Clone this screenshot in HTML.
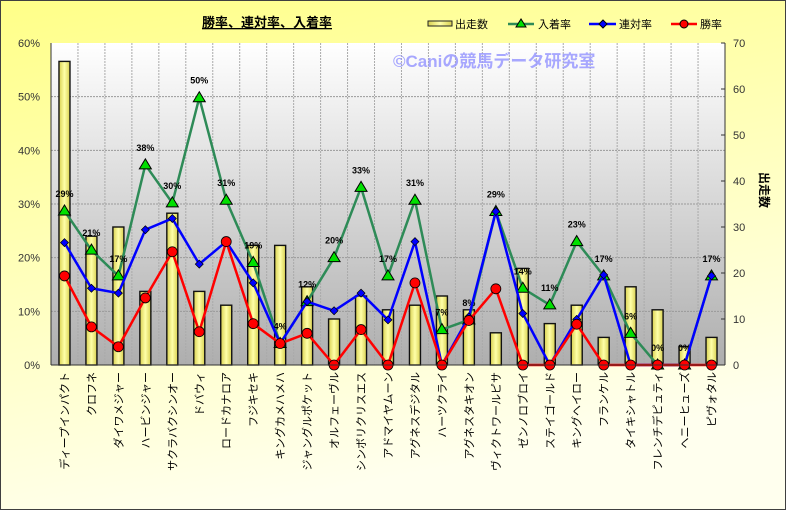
<!DOCTYPE html>
<html><head><meta charset="utf-8"><style>
body{margin:0;width:786px;height:510px;overflow:hidden;font-family:"Liberation Sans","Noto Sans CJK JP",sans-serif}
</style></head><body>
<svg id="s" width="786" height="510" xmlns="http://www.w3.org/2000/svg" font-family="Liberation Sans, Noto Sans CJK JP, sans-serif">
<defs>
<linearGradient id="bg" x1="0" y1="0" x2="0.3" y2="1"><stop offset="0" stop-color="#ffff88"/><stop offset="1" stop-color="#ffffee"/></linearGradient>
<linearGradient id="pl" x1="0" y1="0" x2="0" y2="1"><stop offset="0" stop-color="#ffffff"/><stop offset="1" stop-color="#aeaeae"/></linearGradient>
<linearGradient id="bar" x1="0" y1="0" x2="1" y2="0"><stop offset="0" stop-color="#d8d050"/><stop offset="0.5" stop-color="#ffffa8"/><stop offset="1" stop-color="#d8d050"/></linearGradient>
</defs>
<rect x="0.5" y="0.5" width="785" height="509" fill="url(#bg)" stroke="#404040"/>
<rect x="51" y="43" width="674" height="322" fill="url(#pl)"/>
<g id="g"></g>
</svg>
<script>
const g=document.getElementById('g');let h='';
const L=51,R=725,T=43,B=365,W=(R-L)/25;
const cx=i=>L+W/2+i*W, py=p=>B-p*(B-T)/60, cy=c=>B-c*(B-T)/70;
for(let k=1;k<6;k++)h+=`<line x1="${L}" x2="${R}" y1="${py(k*10)}" y2="${py(k*10)}" stroke="#999" stroke-dasharray="2,1"/>`;
for(let i=1;i<25;i++)h+=`<line x1="${L+i*W}" x2="${L+i*W}" y1="${T}" y2="${B}" stroke="#aaa" stroke-dasharray="2,1"/>`;
const names=["ディープインパクト","クロフネ","ダイワメジャー","ハービンジャー","サクラバクシンオー","ドバウィ","ロードカナロア","フジキセキ","キングカメハメハ","ジャングルポケット","オルフェーヴル","シンボリクリスエス","アドマイヤムーン","アグネスデジタル","ハーツクライ","アグネスタキオン","ヴィクトワールピサ","ゼンノロブロイ","ステイゴールド","キングヘイロー","フランケル","タイキシャトル","フレンチデピュティ","ヘニーヒューズ","ピヴォタル"];
const cnt=[66,28,30,16,33,16,13,26,26,17,10,15,12,13,15,12,7,21,9,13,6,17,12,4,6];
const gr=[28.7,21.4,16.6,37.3,30.2,49.8,30.7,19.1,4,11.8,20,33.1,16.6,30.7,6.6,8.4,28.6,14.3,11.2,23,16.6,5.9,0,0,16.6];
const lab=["29%","21%","17%","38%","30%","50%","31%","19%","4%","12%","20%","33%","17%","31%","7%","8%","29%","14%","11%","23%","17%","6%","0%","0%","17%"];
const bl=[22.8,14.3,13.4,25.2,27.3,18.8,23,15.3,4,11.8,10.1,13.4,8.4,23,0,9,28.6,9.6,0,8.5,16.8,0,0,0,16.6];
const rd=[16.6,7.1,3.4,12.5,21.1,6.2,23,7.7,4,5.9,0,6.6,0,15.3,0,8.3,14.2,0,0,7.6,0,0,0,0,0];
for(let i=0;i<25;i++){const y=cy(cnt[i]);h+=`<rect x="${cx(i)-5.5}" y="${y}" width="11" height="${B-y}" fill="url(#bar)" stroke="#111" stroke-width="1.4"/>`;}
h+=`<text x="393" y="67" font-size="17" font-weight="bold" fill="#9999ff" opacity="0.85">©Caniの競馬データ研究室</text>`;
const line=(a,c)=>`<polyline fill="none" stroke="${c}" stroke-width="2.5" points="${a.map((v,i)=>cx(i)+','+py(v)).join(' ')}"/>`;
h+=line(gr,'#2e8b57');
for(let i=0;i<25;i++){const x=cx(i),y=py(gr[i]);h+=`<polygon points="${x},${y-6} ${x-6},${y+4} ${x+6},${y+4}" fill="#00e000" stroke="#000"/>`;h+=`<text x="${x}" y="${y-14}" font-size="9" font-weight="bold" text-anchor="middle">${lab[i]}</text>`;}
h+=line(bl,'#0000ff');
for(let i=0;i<25;i++){const x=cx(i),y=py(bl[i]);h+=`<polygon points="${x},${y-4} ${x+4},${y} ${x},${y+4} ${x-4},${y}" fill="#0000ff" stroke="#000" stroke-width="0.7"/>`;}
h+=line(rd,'#ff0000');
for(let i=0;i<25;i++){h+=`<circle cx="${cx(i)}" cy="${py(rd[i])}" r="5" fill="#ff0000" stroke="#000" stroke-width="0.8"/>`;}
h+=`<line x1="${L}" y1="${T}" x2="${L}" y2="${B}" stroke="#333"/><line x1="${R}" y1="${T}" x2="${R}" y2="${B}" stroke="#333"/><line x1="${L}" y1="${B}" x2="${R}" y2="${B}" stroke="#333"/>`;
for(let k=0;k<=6;k++)h+=`<text x="40" y="${py(k*10)+4}" font-size="11" text-anchor="end" fill="#333">${k*10}%</text>`;
for(let k=0;k<=7;k++){const y=cy(k*10);h+=`<line x1="${R}" x2="${R-4}" y1="${y}" y2="${y}" stroke="#333"/><text x="733" y="${y+4}" font-size="11" fill="#333">${k*10}</text>`;}
for(let i=0;i<25;i++){const x=cx(i);h+=`<text transform="translate(${x+4},372) rotate(-90)" font-size="11" text-anchor="end">${names[i]}</text>`;}
h+=`<text transform="translate(760,190) rotate(90)" font-size="12" font-weight="bold" text-anchor="middle">出走数</text>`;
h+=`<text x="267" y="27" font-size="13" font-weight="bold" text-anchor="middle" text-decoration="underline">勝率、連対率、入着率</text>`;
h+=`<rect x="428" y="21" width="24" height="5" fill="url(#bar)" stroke="#222"/><text x="455" y="28" font-size="11">出走数</text>`;
h+=`<line x1="508" x2="534" y1="24" y2="24" stroke="#2e8b57" stroke-width="2.5"/><polygon points="521,19 516,27 526,27" fill="#00e000" stroke="#000"/><text x="538" y="28" font-size="11">入着率</text>`;
h+=`<line x1="589" x2="616" y1="24" y2="24" stroke="#0000ff" stroke-width="2.5"/><polygon points="603,20 607,24 603,28 599,24" fill="#00f" stroke="#000"/><text x="619" y="28" font-size="11">連対率</text>`;
h+=`<line x1="671" x2="697" y1="24" y2="24" stroke="#ff0000" stroke-width="2.5"/><circle cx="684" cy="24" r="4" fill="red" stroke="#000"/><text x="700" y="28" font-size="11">勝率</text>`;
g.innerHTML=h;
</script>
</body></html>
